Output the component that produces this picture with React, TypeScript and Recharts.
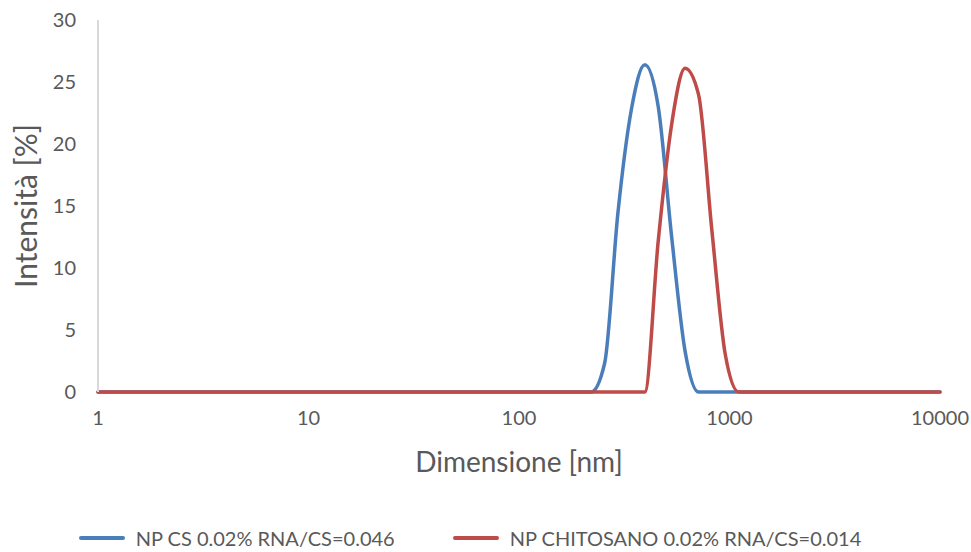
import React from 'react'
import { LineChart, Line, XAxis, YAxis, Legend, Label } from 'recharts'

// hydrodynamic size bins (nm)
const sizes = [
  1, 1.117, 1.294, 1.499, 1.736, 2.01, 2.328, 2.696, 3.122, 3.615, 4.187, 4.849,
  5.615, 6.503, 7.531, 8.721, 10.1, 11.7, 13.54, 15.69, 18.17, 21.04, 24.36,
  28.21, 32.67, 37.84, 43.82, 50.75, 58.77, 68.06, 78.82, 91.28, 105.7, 122.4,
  141.8, 164.2, 190.1, 220.2, 255.0, 295.3, 342.0, 396.1, 458.7, 531.2, 615.1,
  712.4, 825.0, 955.4, 1106, 1281, 1484, 1718, 1990, 2305, 2669, 3091, 3580,
  4145, 4801, 5560, 6439, 7456, 8635, 10000,
]

// intensity (%) per bin, only non-zero bins listed
const csPeak: Record<number, number> = {
  255.0: 2.3, 295.3: 14.5, 342.0: 22.8, 396.1: 26.4, 458.7: 23.0, 531.2: 12.5, 615.1: 3.3,
}
const chitosanPeak: Record<number, number> = {
  458.7: 12.2, 531.2: 21.6, 615.1: 26.1, 712.4: 24.0, 825.0: 13.0, 955.4: 3.0,
}

const xTicks = [1, 10, 100, 1000, 10000]
const yTicks = [0, 5, 10, 15, 20, 25, 30]

const seriesNames = ['NP CS 0.02% RNA/CS=0.046', 'NP CHITOSANO 0.02% RNA/CS=0.014']
const colors = ['#4a7ebb', '#be4b48']

const data = sizes.map((s) => ({
  size: s,
  cs: csPeak[s] ?? 0,
  chitosano: chitosanPeak[s] ?? 0,
}))

const font = 'Lato, "Open Sans", sans-serif'

const LegendContent = () => (
  <div
    style={{
      height: 70,
      display: 'flex',
      justifyContent: 'center',
      alignItems: 'flex-end',
      paddingBottom: 2,
      boxSizing: 'border-box',
      fontFamily: font,
      fontSize: 20,
      color: '#595959',
      gap: 58,
    }}
  >
    {seriesNames.map((n, i) => (
      <div key={n} style={{ display: 'flex', alignItems: 'center', gap: 11 }}>
        <div style={{ width: 46, height: 4, background: colors[i], borderRadius: 2 }} />
        <span>{n}</span>
      </div>
    ))}
  </div>
)

export default function App() {
  return (
    <div style={{ position: 'absolute', left: 0, top: 0, background: '#fff' }}>
      <LineChart
        width={971}
        height={552}
        data={data}
        margin={{ top: 20, right: 31, left: 0, bottom: 0 }}
      >
        <XAxis
          dataKey="size"
          type="number"
          scale="log"
          domain={[1, 10000]}
          ticks={xTicks}
          tickLine={false}
          tickSize={0}
          tickMargin={19}
          height={90}
          axisLine={false}
          tick={{ fill: '#595959', fontSize: 20, fontFamily: font }}
        >
          <Label
            value="Dimensione [nm]"
            position="insideBottom"
            offset={10}
            style={{ fill: '#595959', fontSize: 28, fontFamily: font }}
          />
        </XAxis>
        <YAxis
          type="number"
          domain={[0, 30]}
          ticks={yTicks}
          width={98}
          tickLine={false}
          tickSize={0}
          tickMargin={22}
          axisLine={{ stroke: '#d9d9d9', strokeWidth: 2 }}
          tick={{ fill: '#595959', fontSize: 20, fontFamily: font }}
        >
          <Label
            value="Intensità [%]"
            angle={-90}
            position="insideLeft"
            offset={26}
            style={{ fill: '#595959', fontSize: 30, fontFamily: font, textAnchor: 'middle' }}
          />
        </YAxis>
        <Legend verticalAlign="bottom" content={<LegendContent />} />
        <Line
          dataKey="cs"
          name={seriesNames[0]}
          type="monotone"
          stroke={colors[0]}
          strokeWidth={3.5}
          dot={false}
          strokeLinecap="round"
          isAnimationActive={false}
        />
        <Line
          dataKey="chitosano"
          name={seriesNames[1]}
          type="monotone"
          stroke={colors[1]}
          strokeWidth={3.5}
          dot={false}
          strokeLinecap="round"
          isAnimationActive={false}
        />
      </LineChart>
    </div>
  )
}
